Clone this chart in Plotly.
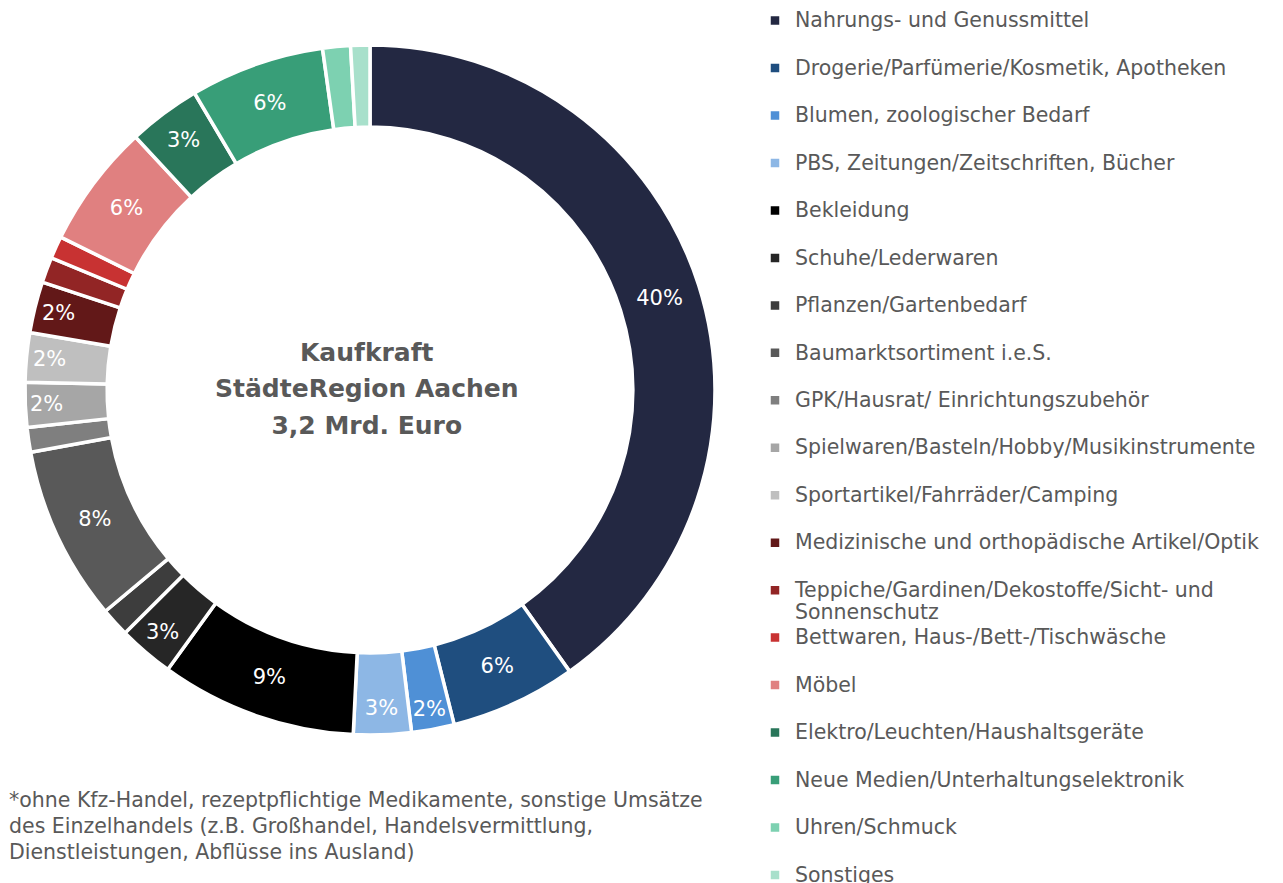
import plotly.graph_objects as go

categories = [
    "Nahrungs- und Genussmittel",
    "Drogerie/Parfümerie/Kosmetik, Apotheken",
    "Blumen, zoologischer Bedarf",
    "PBS, Zeitungen/Zeitschriften, Bücher",
    "Bekleidung",
    "Schuhe/Lederwaren",
    "Pflanzen/Gartenbedarf",
    "Baumarktsortiment i.e.S.",
    "GPK/Hausrat/ Einrichtungszubehör",
    "Spielwaren/Basteln/Hobby/Musikinstrumente",
    "Sportartikel/Fahrräder/Camping",
    "Medizinische und orthopädische Artikel/Optik",
    "Teppiche/Gardinen/Dekostoffe/Sicht- und Sonnenschutz",
    "Bettwaren, Haus-/Bett-/Tischwäsche",
    "Möbel",
    "Elektro/Leuchten/Haushaltsgeräte",
    "Neue Medien/Unterhaltungselektronik",
    "Uhren/Schmuck",
    "Sonstiges",
]
shares = [40.2, 5.9, 2.0, 2.7, 9.2, 2.6, 1.35, 8.2, 1.15, 2.1, 2.3, 2.4, 1.2, 1.05, 5.8, 3.4, 6.3, 1.3, 0.9]
colors = [
    "#232842", "#1F4E7F", "#4F90D6", "#8DB7E5", "#000000", "#262626", "#3D3D3D",
    "#595959", "#7F7F7F", "#A6A6A6", "#BFBFBF", "#621818", "#922525", "#C83232",
    "#E08080", "#29765A", "#389E78", "#7DD1B1", "#A8E0CB",
]
center_lines = ["Kaufkraft", "StädteRegion Aachen", "3,2 Mrd. Euro"]
footnote_lines = [
    "*ohne Kfz-Handel, rezeptpflichtige Medikamente, sonstige Umsätze",
    "des Einzelhandels (z.B. Großhandel, Handelsvermittlung,",
    "Dienstleistungen, Abflüsse ins Ausland)",
]
label_threshold = 1.5

FONT = "DejaVu Sans"
GRAY = "#595959"


def legend_label(name):
    if "Sicht- und " in name:
        a, b = name.split("Sicht- und ")
        first, second = a + "Sicht- und", b
    else:
        first, second = name, " "
    span = '<span style="font-size:20.5px">{}</span>'
    return span.format(first) + "<br>" + span.format(second)


labels = [legend_label(c) for c in categories]
templates = ["%{percent:.0%}" if v >= label_threshold else "" for v in shares]

W, H = 1283, 883
cx, cy, R = 370, 390, 345

fig = go.Figure(
    go.Pie(
        labels=labels,
        values=shares,
        customdata=categories,
        sort=False,
        direction="clockwise",
        rotation=0,
        hole=0.762,
        marker=dict(colors=colors, line=dict(color="white", width=3.5)),
        texttemplate=templates,
        textposition="inside",
        insidetextorientation="horizontal",
        textfont=dict(family=FONT, size=21, color="white"),
        hovertemplate="%{customdata}: %{percent}<extra></extra>",
        domain=dict(
            x=[(cx - R) / W, (cx + R) / W],
            y=[(H - cy - R) / H, (H - cy + R) / H],
        ),
    )
)

fig.update_layout(
    width=W,
    height=H,
    margin=dict(l=0, r=0, t=0, b=0, autoexpand=False),
    paper_bgcolor="white",
    plot_bgcolor="white",
    uniformtext=dict(minsize=21, mode="show"),
    showlegend=True,
    legend=dict(
        x=755 / W,
        xanchor="left",
        y=1.0 - 3 / H,
        yanchor="top",
        valign="top",
        font=dict(family=FONT, size=17.1, color=GRAY),
        bgcolor="rgba(0,0,0,0)",
        maxheight=1000,
        traceorder="normal",
    ),
    annotations=[
        dict(
            text="<br>".join('<span style="font-size:25px">{}</span>'.format(s) for s in center_lines),
            x=(cx - 3) / W,
            y=(H - cy + 1) / H,
            xref="paper",
            yref="paper",
            xanchor="center",
            yanchor="middle",
            showarrow=False,
            align="center",
            font=dict(family=FONT, size=28, color=GRAY, weight="bold"),
        ),
        dict(
            text="<br>".join('<span style="font-size:20.5px">{}</span>'.format(s) for s in footnote_lines),
            x=7 / W,
            y=(H - 826) / H,
            xref="paper",
            yref="paper",
            xanchor="left",
            yanchor="middle",
            showarrow=False,
            align="left",
            font=dict(family=FONT, size=20, color=GRAY),
        ),
    ],
)

fig.write_html(
    "out.html",
    config={"displayModeBar": False},
    post_script="document.body.style.margin='0px';",
)
